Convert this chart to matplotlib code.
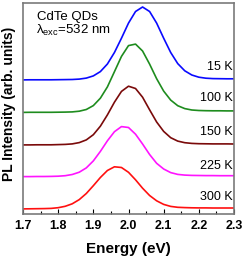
import matplotlib
matplotlib.use("Agg")
import matplotlib.pyplot as plt
from matplotlib.ticker import MultipleLocator

plt.rcParams['font.family'] = ['Liberation Sans', 'DejaVu Sans']
plt.rcParams['mathtext.fontset'] = 'custom'
plt.rcParams['mathtext.rm'] = 'Liberation Sans'
plt.rcParams['mathtext.it'] = 'Liberation Sans'

energy = [1.70, 1.72, 1.74, 1.76, 1.78, 1.80, 1.82, 1.84, 1.86, 1.88,
          1.90, 1.92, 1.94, 1.96, 1.98, 2.00, 2.02, 2.04, 2.06, 2.08,
          2.10, 2.12, 2.14, 2.16, 2.18, 2.20, 2.22, 2.24, 2.26, 2.28, 2.30]

pl_15K = [0.1, 0.2, 0.2, 0.2, 0.2, 0.3, 0.4, 0.5, 0.9, 1.9,
          4.1, 8.4, 16.0, 27.5, 41.8, 56.9, 68.5, 73.0, 68.5, 56.9,
          41.8, 27.5, 16.4, 9.2, 5.0, 2.8, 1.8, 1.4, 1.3, 1.2, 1.2]
pl_100K = [0.1, 0.2, 0.2, 0.2, 0.2, 0.3, 0.4, 0.6, 1.3, 3.0,
           6.9, 14.3, 25.6, 40.8, 56.1, 66.9, 68.4, 61.5, 48.4, 33.8,
           21.4, 12.4, 6.8, 3.9, 2.5, 2.0, 1.8, 1.7, 1.7, 1.6, 1.6]
pl_150K = [0.1, 0.1, 0.2, 0.2, 0.2, 0.4, 0.6, 1.1, 2.4, 5.1,
           10.3, 18.8, 30.1, 42.8, 53.6, 58.8, 56.5, 47.8, 35.2, 23.0,
           13.6, 7.3, 3.9, 2.3, 1.6, 1.3, 1.2, 1.1, 1.1, 1.1, 1.0]
pl_225K = [0.1, 0.1, 0.2, 0.2, 0.3, 0.5, 1.0, 2.2, 4.5, 8.8,
           15.8, 25.3, 35.9, 45.0, 50.1, 49.2, 42.5, 32.7, 22.2, 13.4,
           7.7, 4.1, 2.3, 1.6, 1.3, 1.2, 1.1, 1.1, 1.0, 1.0, 1.0]
pl_300K = [0.1, 0.2, 0.3, 0.4, 0.6, 1.3, 2.7, 5.2, 9.4, 15.5,
           23.3, 31.5, 38.5, 42.2, 41.5, 36.7, 29.2, 20.8, 13.5, 8.2,
           4.6, 2.6, 1.7, 1.4, 1.2, 1.1, 1.1, 1.0, 1.0, 1.0, 1.0]

spectra = [pl_15K, pl_100K, pl_150K, pl_225K, pl_300K]
offsets = [134, 101.5, 69, 37.3, 5]
temp_labels = ['15 K', '100 K', '150 K', '225 K', '300 K']
label_y = [147, 116, 82, 48, 17]
colors = ['#0a0aff', '#1e8c1e', '#7a0a0a', '#ff14ff', '#ff1010']

x_ticks = [1.7, 1.8, 1.9, 2.0, 2.1, 2.2, 2.3]

fig = plt.figure(figsize=(2.44, 2.56), dpi=100)
ax = fig.add_axes([23/244, 42/256, 211/244, 211/256])

for spec, off, col in zip(spectra, offsets, colors):
    ax.plot(energy, [v + off for v in spec], color=col, lw=1.2)

for lab, ly in zip(temp_labels, label_y):
    ax.text(2.297, ly, lab, ha='right', va='center', fontsize=9)

ax.text(0.065, 0.935, 'CdTe QDs', transform=ax.transAxes, fontsize=9.5,
        ha='left', va='center')
ax.text(0.06, 0.868, r'λ$_{\mathrm{exc}}$=532 nm', transform=ax.transAxes,
        fontsize=9.5, ha='left', va='center')

ax.set_xlim(1.7, 2.3)
ax.set_ylim(0, 211)
ax.set_xticks(x_ticks)
ax.set_xticklabels([f'{t:.1f}' for t in x_ticks], fontweight='bold', fontsize=9)
ax.xaxis.set_minor_locator(MultipleLocator(0.05))
ax.tick_params(axis='x', which='major', direction='in', length=3.5, width=0.8, pad=4)
ax.tick_params(axis='x', which='minor', direction='in', length=2, width=0.8)
ax.tick_params(axis='x', top=False, which='both')
ax.set_yticks([])
for s in ax.spines.values():
    s.set_color('#7a7a7a')
    s.set_linewidth(1.2)

ax.set_xlabel('Energy (eV)', fontweight='bold', fontsize=11)
ax.xaxis.set_label_coords(0.5, -0.132)
ax.set_ylabel('PL Intensity (arb. units)', fontweight='bold', fontsize=10)
ax.yaxis.set_label_coords(-0.035, 0.52)

fig.savefig('out.png', dpi=100)
